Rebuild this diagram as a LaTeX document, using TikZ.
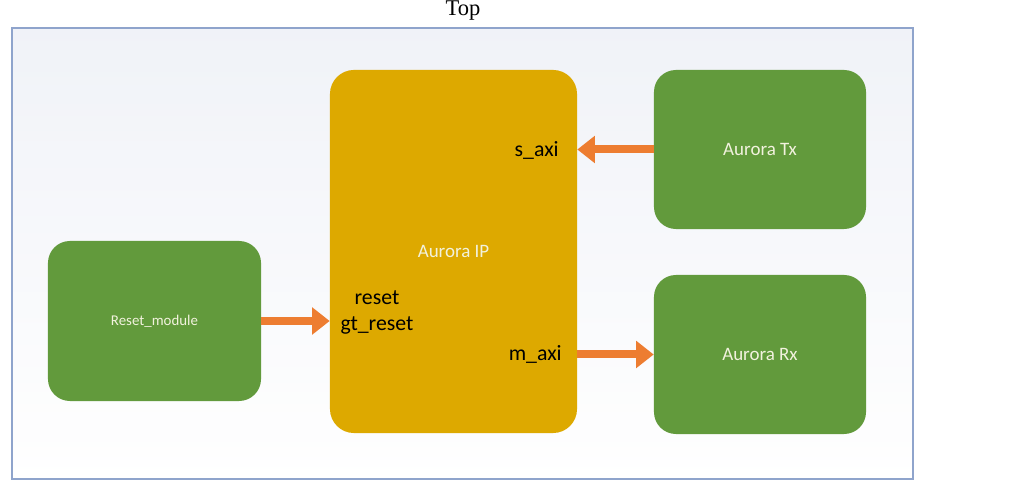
\documentclass[tikz,border=0pt]{standalone}
\usepackage{fontspec}
\setmainfont{Carlito}
\newfontfamily\titlefont{Liberation Serif}
\usetikzlibrary{arrows.meta}
\definecolor{ipgold}{RGB}{221,169,0}
\definecolor{blkgreen}{RGB}{98,154,60}
\definecolor{arrorange}{RGB}{237,125,49}
\definecolor{frameblue}{RGB}{143,164,204}
\definecolor{framebg}{RGB}{234,237,245}
\definecolor{boxtext}{RGB}{242,242,222}
\tikzset{
  greenbox/.style={draw=none, fill=blkgreen, rounded corners=0.55cm, text=boxtext,
    minimum width=5.3cm, minimum height=3.975cm, inner sep=0pt},
  ipbox/.style={draw=none, fill=ipgold, rounded corners=0.6cm, text=boxtext,
    minimum width=6.175cm, minimum height=9.075cm, inner sep=0pt},
  portlbl/.style={text=black, font=\fontsize{15.5}{18}\selectfont, inner sep=0pt},
  bigarrow/.style={arrorange, line width=0.2cm,
    -{Triangle[length=0.44cm,width=0.66cm]}, shorten >=0pt},
}
\begin{document}
\begin{tikzpicture}[x=0.025cm,y=-0.025cm]
\useasboundingbox (0,0) rectangle (1009,491);
\fill[white] (0,0) rectangle (1009,491);
% frame
\shade[left color=framebg, right color=white, shading angle=0] (12,28) rectangle (913,479);
\shade[top color=framebg!40!white, bottom color=white, opacity=0.5] (12,28) rectangle (913,479);
\draw[frameblue, line width=1.2pt] (12,28) rectangle (913,479);
\node[font=\titlefont\fontsize{16}{18}\selectfont, inner sep=0pt, anchor=base] (title) at (463,16) {Top};
% blocks
\node[ipbox, font=\fontsize{13.5}{15}\selectfont] (ip) at (453.5,251.5) {Aurora IP};
\node[greenbox, font=\fontsize{13.5}{15}\selectfont] (tx) at (760,149.5) {Aurora Tx};
\node[greenbox, font=\fontsize{13.5}{15}\selectfont] (rx) at (760,354.5) {Aurora Rx};
\node[greenbox, minimum width=5.325cm, minimum height=4cm, font=\fontsize{10.6}{12}\selectfont] (rst) at (154.5,321) {Reset\_module};
% port labels
\node[portlbl, anchor=east] (saxi) at (559,150) {s\_axi};
\node[portlbl, anchor=east] (maxi) at (562,354) {m\_axi};
\node[portlbl] (resetl) at (377,298) {reset};
\node[portlbl] (gtreset) at (377,325) {gt\_reset};
% arrows
\draw[bigarrow] (tx.west) -- (ip.east |- tx.west);
\draw[bigarrow] (ip.east |- rx.west) -- (rx.west);
\draw[bigarrow] (rst.east) -- (ip.west |- rst.east);
\end{tikzpicture}
\end{document}
